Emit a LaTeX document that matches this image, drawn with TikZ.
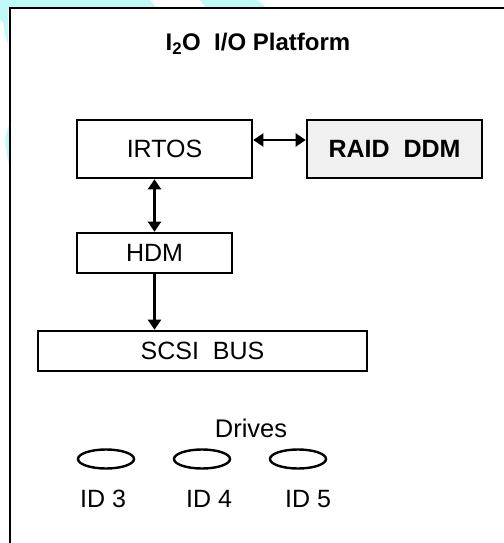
\documentclass[tikz,border=0pt]{standalone}
\usepackage{fontspec}
\setmainfont{Liberation Sans}
\usetikzlibrary{arrows.meta,shapes.geometric}
\definecolor{bgcyan}{HTML}{BFFAF6}
\definecolor{raidgray}{HTML}{F0F0F0}
\begin{document}
\begin{tikzpicture}[x=1pt,y=-1pt,
  txt/.style={font=\fontsize{25}{29}\selectfont},
  box/.style={draw=black,line width=2.6pt,fill=white,inner sep=0pt,txt},
  lbl/.style={inner sep=0pt,txt},
  tip/.tip={Triangle[width=13pt,length=10pt]},
  conn/.style={line width=2.2pt,-tip},
  dconn/.style={line width=2.2pt,tip-tip},
  drive/.style={draw=black,line width=2.4pt,ellipse,minimum width=56pt,minimum height=19pt,inner sep=0pt}]
\useasboundingbox (0,0) rectangle (503,543);
% background decoration
\fill[bgcyan] (0,0) -- (150,0) -- (158,10) -- (0,10) -- cycle;
\fill[bgcyan] (200,0) -- (257,0) .. controls (262,3) .. (268,10) -- (207,10) -- cycle;
\fill[bgcyan] (0,0) -- (8,0) -- (8,45) .. controls (5,35) .. (3,22) -- (0,20) -- cycle;
\fill[bgcyan] (9,125) .. controls (4,140) .. (9,165) -- cycle;
% frame
\draw[line width=2.6pt,fill=white] (10,8) rectangle (530,570);
% title
\node[lbl,anchor=base,font=\fontsize{24}{28}\selectfont\bfseries] (title) at (258,51) {I\textsubscript{2}O\ \ I/O Platform};
% boxes
\node[box,minimum width=175pt,minimum height=58pt] (irtos) at (164.5,149) {IRTOS};
\node[box,fill=raidgray,minimum width=175pt,minimum height=58pt,font=\fontsize{25}{29}\selectfont\bfseries] (raid) at (394.5,149) {RAID\ \ DDM};
\node[box,minimum width=155pt,minimum height=40pt] (hdm) at (154.5,253) {HDM};
\node[box,minimum width=329pt,minimum height=40pt] (scsi) at (202.5,351) {SCSI\ \ BUS};
% connectors
\draw[dconn] ([yshift=9pt]irtos.east) -- ([yshift=9pt]raid.west);
\draw[dconn] (hdm.north) -- (hdm.north |- irtos.south);
\draw[conn] (hdm.south) -- (hdm.south |- scsi.north);
% drives
\node[lbl,anchor=base,font=\fontsize{25.5}{29}\selectfont] (drives) at (251,437) {Drives};
\node[drive] (d3) at (106,459) {};
\node[drive] (d4) at (202,459) {};
\node[drive] (d5) at (298,459) {};
\node[lbl,anchor=base] (id3) at (103,507) {ID 3};
\node[lbl,anchor=base] (id4) at (209,507) {ID 4};
\node[lbl,anchor=base] (id5) at (308,507) {ID 5};
\end{tikzpicture}
\end{document}
